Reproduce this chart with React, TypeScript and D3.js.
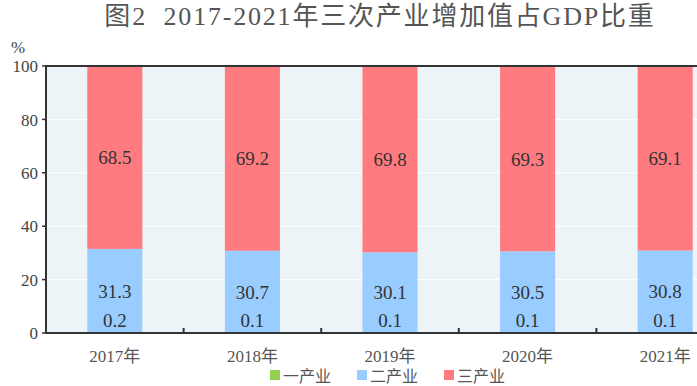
import * as d3 from "d3";
import React, { useRef, useEffect } from "react";

const years = ["2017年", "2018年", "2019年", "2020年", "2021年"];
const primary = [0.2, 0.1, 0.1, 0.1, 0.1];
const secondary = [31.3, 30.7, 30.1, 30.5, 30.8];
const tertiary = [68.5, 69.2, 69.8, 69.3, 69.1];
const seriesNames = ["一产业", "二产业", "三产业"];
const colors = ["#92D050", "#99CCFF", "#FF7B80"];
const yTicks = [0, 20, 40, 60, 80, 100];

const FONT = "'Liberation Serif', 'Times New Roman', Tinos, 'DejaVu Serif', 'Noto Sans CJK SC', serif";

export default function App() {
  const svgRef = useRef<SVGSVGElement>(null);

  useEffect(() => {
    const width = 697;
    const height = 386;
    const left = 46;
    const top = 66;
    const bottom = 333;

    const svg = d3.select(svgRef.current).attr("width", width).attr("height", height);
    svg.selectAll("*").remove();

    // the last band runs past the right edge, like the original
    const x = d3.scaleBand().domain(years).range([left, 734]).paddingInner(0.6).paddingOuter(0.3);
    const step = x.step();
    const y = d3.scaleLinear().domain([0, 100]).range([bottom, top]);

    // plot background
    svg
      .append("rect")
      .attr("x", left)
      .attr("y", top)
      .attr("width", width - left)
      .attr("height", bottom - top)
      .attr("fill", "#EDF4F7");

    // gridlines
    svg
      .selectAll("line.grid")
      .data(yTicks.filter((t) => t > 0 && t < 100))
      .enter()
      .append("line")
      .attr("x1", left)
      .attr("x2", width)
      .attr("y1", (d) => y(d))
      .attr("y2", (d) => y(d))
      .attr("stroke", "#fff")
      .attr("stroke-width", 1);

    const rows = years.map((yr, i) => ({ yr, vals: [primary[i], secondary[i], tertiary[i]] }));
    const stacked = d3.stack<any>().keys([0, 1, 2] as any).value((d: any, k: any) => d.vals[k])(rows as any);

    stacked.forEach((layer, li) => {
      svg
        .append("g")
        .selectAll("rect")
        .data(layer)
        .enter()
        .append("rect")
        .attr("x", (d: any) => x(d.data.yr)!)
        .attr("width", x.bandwidth())
        .attr("y", (d) => y(d[1]))
        .attr("height", (d) => y(d[0]) - y(d[1]))
        .attr("fill", colors[li]);
    });

    // value labels
    const lab = svg.append("g").style("font-family", FONT).attr("font-size", 19).attr("fill", "#333").attr("text-anchor", "middle");
    stacked.forEach((layer, li) => {
      lab
        .selectAll(null)
        .data(layer)
        .enter()
        .append("text")
        .attr("x", (d: any) => x(d.data.yr)! + x.bandwidth() / 2)
        .attr("y", (d) => (li === 0 ? y(d[0]) - 13 : (y(d[0]) + y(d[1])) / 2))
        .attr("dy", "0.36em")
        .text((d: any) => d.data.vals[li].toFixed(1));
    });

    // axes
    svg.append("line").attr("x1", left).attr("x2", width).attr("y1", top).attr("y2", top).attr("stroke", "#333").attr("stroke-width", 2);
    svg.append("line").attr("x1", left).attr("x2", left).attr("y1", top - 1).attr("y2", bottom + 1).attr("stroke", "#333").attr("stroke-width", 2);
    svg.append("line").attr("x1", left - 1).attr("x2", width).attr("y1", bottom).attr("y2", bottom).attr("stroke", "#333").attr("stroke-width", 2);

    // y ticks
    svg
      .selectAll("line.ytick")
      .data(yTicks)
      .enter()
      .append("line")
      .attr("x1", left - 4)
      .attr("x2", left)
      .attr("y1", (d) => y(d))
      .attr("y2", (d) => y(d))
      .attr("stroke", "#333")
      .attr("stroke-width", 1.5);

    svg
      .append("g")
      .style("font-family", FONT)
      .attr("font-size", 17)
      .attr("fill", "#444")
      .attr("text-anchor", "end")
      .selectAll("text")
      .data(yTicks)
      .enter()
      .append("text")
      .attr("x", 38)
      .attr("y", (d) => y(d))
      .attr("dy", "0.36em")
      .text((d) => d);

    svg.append("text").attr("x", 18).attr("y", 53).style("font-family", FONT).attr("font-size", 17).attr("fill", "#444").attr("text-anchor", "middle").text("%");

    // x category ticks between bars
    svg
      .selectAll("line.xtick")
      .data(years.slice(1))
      .enter()
      .append("line")
      .attr("x1", (d) => x(d)! - (step - x.bandwidth()) / 2)
      .attr("x2", (d) => x(d)! - (step - x.bandwidth()) / 2)
      .attr("y1", bottom - 5)
      .attr("y2", bottom)
      .attr("stroke", "#333")
      .attr("stroke-width", 2);

    svg
      .append("g")
      .style("font-family", FONT)
      .attr("font-size", 17)
      .attr("fill", "#555")
      .attr("text-anchor", "middle")
      .selectAll("text")
      .data(years)
      .enter()
      .append("text")
      .attr("x", (d) => x(d)! + x.bandwidth() / 2)
      .attr("y", 362)
      .text((d) => d);

    // title
    svg
      .append("text")
      .attr("x", 380)
      .attr("y", 25)
      .style("font-family", FONT)
      .attr("font-size", 26)
      .attr("letter-spacing", 1.8)
      .attr("fill", "#555")
      .attr("text-anchor", "middle")
      .text("图2\u00a0\u00a02017-2021年三次产业增加值占GDP比重");

    // legend
    const legendX = [270, 357, 444];
    const lg = svg.append("g").selectAll("g").data(seriesNames).enter().append("g").attr("transform", (_, i) => `translate(${legendX[i]},370)`);
    lg.append("rect").attr("width", 10).attr("height", 10).attr("fill", (_, i) => colors[i]);
    lg.append("text")
      .attr("x", 13)
      .attr("y", 12)
      .style("font-family", FONT)
      .attr("font-size", 16)
      .attr("fill", "#555")
      .text((d) => d);
  }, []);

  return <svg ref={svgRef} style={{ position: "absolute", left: 0, top: 0 }}></svg>;
}
